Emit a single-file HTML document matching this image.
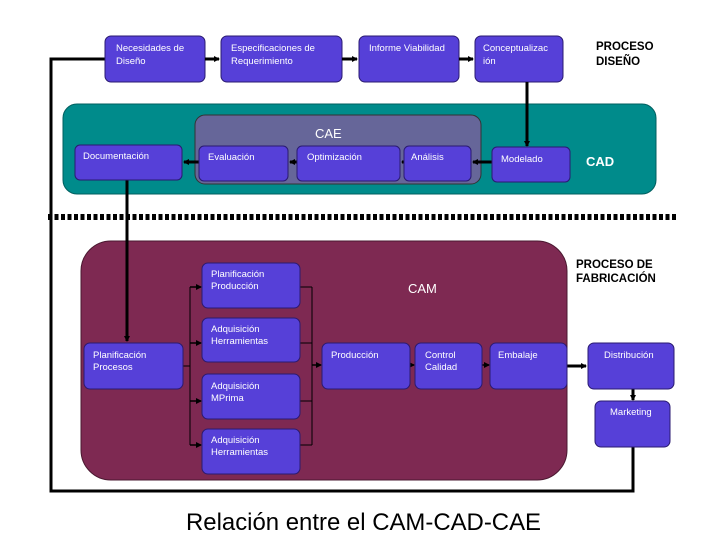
<!DOCTYPE html>
<html><head><meta charset="utf-8"><style>
html,body{margin:0;padding:0;background:#fff;}
svg{display:block;font-family:"Liberation Sans",sans-serif;}
.b{fill:#5640d8;stroke:#2a1a70;stroke-width:1;}
.t{fill:#fff;font-size:9.5px;}
.k{fill:#000;font-size:11.5px;font-weight:bold;}
</style></head><body>
<svg width="720" height="540" viewBox="0 0 720 540">
<defs><marker id="a" markerWidth="6" markerHeight="6" refX="5" refY="3" orient="auto" markerUnits="userSpaceOnUse"><path d="M0,0 L6,3 L0,6z" fill="#000"/></marker></defs>
<rect x="63" y="104" width="593" height="90" rx="14" fill="#008b8b" stroke="#005f5f"/>
<rect x="195" y="115" width="286" height="69" rx="10" fill="#666699" stroke="#333"/>
<rect x="81" y="241" width="486" height="239" rx="30" fill="#7e2952" stroke="#4a1830"/>
<line x1="48" y1="217" x2="677" y2="217" stroke="#000" stroke-width="6" stroke-dasharray="4,2.5"/>
<polyline points="105,59 51,59 51,491 633,491 633,447" fill="none" stroke="#000" stroke-width="3"/>
<rect class="b" x="105" y="36" width="100" height="46" rx="6"/>
<rect class="b" x="221" y="36" width="121" height="46" rx="6"/>
<rect class="b" x="359" y="36" width="100" height="46" rx="6"/>
<rect class="b" x="475" y="36" width="88" height="46" rx="6"/>
<text class="t" x="116" y="51">Necesidades de</text><text class="t" x="116" y="64">Diseño</text>
<text class="t" x="231" y="51">Especificaciones de</text><text class="t" x="231" y="64">Requerimiento</text>
<text class="t" x="369" y="51">Informe Viabilidad</text>
<text class="t" x="483" y="51">Conceptualizac</text><text class="t" x="483" y="64">ión</text>
<text class="k" x="596" y="50">PROCESO</text><text class="k" x="596" y="65">DISEÑO</text>
<g stroke="#000" stroke-width="3" marker-end="url(#a)">
<line x1="205" y1="59" x2="219" y2="59"/><line x1="342" y1="59" x2="357" y2="59"/><line x1="459" y1="59" x2="473" y2="59"/>
<line x1="527" y1="82" x2="527" y2="146"/>
<line x1="492" y1="162" x2="473" y2="162"/><line x1="404" y1="162" x2="402" y2="162"/><line x1="297" y1="162" x2="290" y2="162"/><line x1="199" y1="162" x2="184" y2="162"/>
<line x1="127" y1="180" x2="127" y2="341"/>
<line x1="567" y1="366" x2="586" y2="366"/>
<line x1="633" y1="389" x2="633" y2="400"/>
</g>
<rect class="b" x="75" y="145" width="107" height="35" rx="5"/>
<rect class="b" x="199" y="146" width="89" height="35" rx="5"/>
<rect class="b" x="297" y="146" width="103" height="35" rx="5"/>
<rect class="b" x="404" y="146" width="67" height="35" rx="5"/>
<rect class="b" x="492" y="147" width="78" height="35" rx="5"/>
<text class="t" x="83" y="159">Documentación</text>
<text class="t" x="208" y="160">Evaluación</text>
<text class="t" x="307" y="160">Optimización</text>
<text class="t" x="411" y="160">Análisis</text>
<text class="t" x="501" y="162">Modelado</text>
<text x="315" y="138" fill="#fff" font-size="13">CAE</text>
<text x="586" y="166" fill="#fff" font-size="13" font-weight="bold">CAD</text>
<text x="408" y="293" fill="#fff" font-size="13">CAM</text>
<text class="k" x="576" y="268">PROCESO DE</text><text class="k" x="576" y="282">FABRICACIÓN</text>
<g fill="none" stroke="#000" stroke-width="1">
<polyline points="183,366 190,366"/><line x1="190" y1="287" x2="190" y2="445"/>
<line x1="300" y1="287" x2="312" y2="287"/><line x1="300" y1="343" x2="312" y2="343"/><line x1="300" y1="401" x2="312" y2="401"/><line x1="300" y1="445" x2="312" y2="445"/>
<line x1="312" y1="287" x2="312" y2="445"/>
</g>
<g stroke="#000" stroke-width="1.5" marker-end="url(#a)">
<line x1="190" y1="287" x2="201" y2="287"/><line x1="190" y1="343" x2="201" y2="343"/><line x1="190" y1="401" x2="201" y2="401"/><line x1="190" y1="445" x2="201" y2="445"/>
<line x1="312" y1="365" x2="321" y2="365"/><line x1="410" y1="365" x2="414" y2="365"/><line x1="482" y1="365" x2="489" y2="365"/>
</g>
<rect class="b" x="84" y="343" width="99" height="46" rx="6"/>
<rect class="b" x="202" y="263" width="98" height="45" rx="6"/>
<rect class="b" x="202" y="318" width="98" height="44" rx="6"/>
<rect class="b" x="202" y="374" width="98" height="45" rx="6"/>
<rect class="b" x="202" y="429" width="98" height="45" rx="6"/>
<rect class="b" x="322" y="343" width="88" height="46" rx="6"/>
<rect class="b" x="415" y="343" width="67" height="46" rx="6"/>
<rect class="b" x="490" y="343" width="77" height="46" rx="6"/>
<rect class="b" x="588" y="343" width="86" height="46" rx="6"/>
<rect class="b" x="595" y="401" width="75" height="46" rx="6"/>
<text class="t" x="93" y="358">Planificación</text><text class="t" x="93" y="370">Procesos</text>
<text class="t" x="211" y="277">Planificación</text><text class="t" x="211" y="289">Producción</text>
<text class="t" x="211" y="332">Adquisición</text><text class="t" x="211" y="344">Herramientas</text>
<text class="t" x="211" y="389">Adquisición</text><text class="t" x="211" y="401">MPrima</text>
<text class="t" x="211" y="443">Adquisición</text><text class="t" x="211" y="455">Herramientas</text>
<text class="t" x="331" y="358">Producción</text>
<text class="t" x="425" y="358">Control</text><text class="t" x="425" y="370">Calidad</text>
<text class="t" x="498" y="358">Embalaje</text>
<text class="t" x="604" y="358">Distribución</text>
<text class="t" x="610" y="415">Marketing</text>
<text x="186" y="530" fill="#000" font-size="24" textLength="355" lengthAdjust="spacingAndGlyphs">Relación entre el CAM-CAD-CAE</text>
</svg>
</body></html>
